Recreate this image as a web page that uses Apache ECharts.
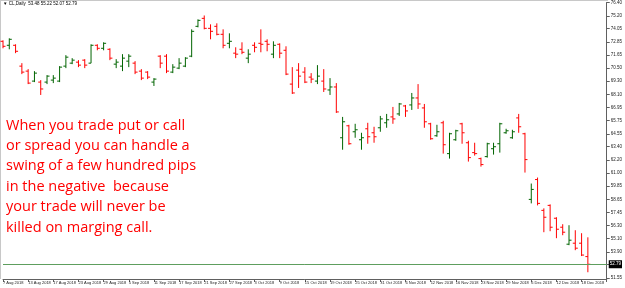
<!DOCTYPE html>
<html>
<head>
<meta charset="utf-8">
<script src="https://cdn.jsdelivr.net/npm/echarts@6/dist/echarts.min.js"></script>
<style>
html, body { margin: 0; padding: 0; background: #fff; }
#chart { width: 625px; height: 288px; }
</style>
</head>
<body>
<div id="chart"></div>
<script>
// trading days shown on the chart (US holidays Sep 3, Nov 22, Dec 5 missing)
var augDays = [7, 8, 9, 10, 13, 14, 15, 16, 17, 20, 21, 22, 23, 24, 27, 28, 29, 30, 31];
var sepDays = [4, 5, 6, 7, 10, 11, 12, 13, 14, 17, 18, 19, 20, 21, 24, 25, 26, 27, 28];
var octDays = [1, 2, 3, 4, 5, 8, 9, 10, 11, 12, 15, 16, 17, 18, 19, 22, 23, 24, 25, 26, 29, 30, 31];
var novDays = [1, 2, 5, 6, 7, 8, 9, 12, 13, 14, 15, 16, 19, 20, 21, 23, 26, 27, 28, 29, 30];
var decDays = [3, 4, 6, 7, 10, 11, 12, 13, 14, 17, 18, 19];

// daily bars
var opens = [72.90, 72.54, 72.54, 70.66, 70.21, 69.31, 69.22, 69.22, 69.40, 69.31,
    70.66, 70.93, 71.02, 71.20, 70.93, 72.54, 72.27, 72.18, 70.84, 70.66,
    71.11, 70.93, 70.21, 70.12, 69.22, 71.56, 71.56, 70.12, 70.48, 70.66,
    71.56, 74.25, 74.97, 74.07, 74.25, 73.53, 72.72, 71.83, 72.18, 71.38,
    72.54, 72.72, 72.90, 71.74, 72.63, 72.09, 69.04, 70.30, 70.12, 69.67,
    69.31, 69.31, 68.51, 68.78, 64.20, 65.28, 64.74, 64.02, 65.01, 64.65,
    65.10, 65.55, 66.08, 66.35, 67.07, 67.16, 67.79, 66.89, 65.46, 64.38,
    65.55, 62.77, 64.02, 65.46, 63.75, 62.86, 62.32, 62.50, 63.21, 63.66,
    64.65, 64.20, 65.99, 64.56, 58.64, 60.43, 57.65, 58.10, 56.94, 56.13,
    54.60, 54.69, 54.69, 53.48];
var highs = [72.99, 73.17, 72.63, 70.93, 70.39, 70.21, 69.40, 69.85, 69.85, 70.66,
    71.65, 71.38, 71.20, 71.29, 72.63, 72.63, 72.81, 72.27, 71.29, 71.74,
    71.74, 71.11, 70.39, 70.21, 69.58, 71.65, 71.74, 70.84, 71.38, 71.47,
    73.98, 74.88, 75.23, 74.43, 74.52, 73.98, 73.62, 72.36, 72.81, 72.18,
    72.81, 73.98, 73.08, 72.90, 72.72, 72.45, 70.57, 70.93, 70.57, 70.03,
    70.75, 70.39, 69.58, 69.13, 66.08, 65.37, 65.46, 64.65, 65.55, 65.19,
    66.17, 66.35, 66.98, 67.34, 67.16, 68.24, 69.04, 67.25, 65.55, 65.37,
    65.73, 64.65, 64.92, 65.55, 63.93, 63.75, 62.41, 63.75, 63.75, 65.55,
    65.01, 64.92, 66.35, 64.65, 60.07, 60.61, 57.83, 58.19, 57.03, 56.40,
    56.31, 55.86, 55.59, 55.22];
var lows = [72.27, 72.18, 71.83, 69.94, 69.04, 69.22, 68.06, 69.04, 69.13, 69.22,
    70.48, 70.84, 70.57, 70.48, 70.93, 72.09, 72.09, 71.20, 70.48, 70.21,
    70.57, 69.94, 69.40, 69.49, 68.87, 70.48, 70.03, 70.03, 70.39, 70.57,
    71.47, 74.16, 73.98, 73.08, 73.44, 72.27, 72.27, 71.38, 71.74, 70.93,
    71.91, 71.91, 72.00, 71.38, 71.38, 69.85, 68.15, 68.69, 69.13, 69.13,
    69.04, 68.33, 68.06, 66.44, 63.12, 63.57, 64.20, 63.12, 63.66, 63.75,
    64.74, 65.10, 65.46, 66.17, 66.08, 66.71, 66.80, 65.10, 64.02, 64.29,
    62.77, 62.32, 63.93, 63.66, 62.05, 62.59, 61.60, 62.41, 62.68, 62.86,
    64.56, 64.11, 64.65, 61.06, 58.28, 58.10, 55.68, 55.77, 55.14, 55.41,
    54.51, 54.06, 53.53, 52.07];
var closes = [72.45, 73.08, 72.00, 70.12, 69.13, 70.03, 68.60, 69.76, 69.58, 70.57,
    71.47, 71.20, 70.75, 70.75, 72.54, 72.27, 72.72, 71.38, 71.02, 71.38,
    71.56, 70.12, 69.58, 69.67, 69.49, 70.93, 70.21, 70.57, 70.93, 71.38,
    73.80, 74.79, 74.07, 73.80, 73.53, 72.54, 72.90, 71.74, 71.91, 71.74,
    72.36, 72.63, 72.63, 72.54, 71.83, 69.94, 68.24, 69.76, 69.22, 69.49,
    69.76, 68.60, 68.78, 66.53, 65.64, 63.66, 64.92, 64.20, 64.29, 64.29,
    65.90, 65.82, 65.90, 67.25, 66.62, 67.79, 67.25, 65.64, 64.11, 64.74,
    63.57, 64.56, 64.83, 64.65, 62.41, 62.77, 61.78, 63.66, 63.39, 65.46,
    64.83, 64.74, 65.19, 62.23, 59.54, 58.28, 57.03, 56.13, 55.95, 55.68,
    54.96, 54.24, 53.62, 52.79];

var priceLabels = [76.40, 75.20, 74.05, 72.85, 71.65, 70.50, 69.30, 68.10, 66.95, 65.75, 64.55,
    63.40, 62.20, 61.00, 59.85, 58.65, 57.45, 56.30, 55.10, 53.90, 52.75, 51.55];
var lastPrice = 52.79;
var headerText = '\u25BC CL,Daily  53.48 55.22 52.07 52.79';

var noteLines = [
    'When you trade put or call',
    'or spread you can handle a',
    'swing of a few hundred pips',
    'in the negative  because',
    'your trade will never be',
    'killed on marging call.'
];

var upColor = '#006400';
var downColor = '#ff0000';

var dates = [];
[['Aug', augDays], ['Sep', sepDays], ['Oct', octDays], ['Nov', novDays], ['Dec', decDays]].forEach(function (m) {
    m[1].forEach(function (d) {
        dates.push(d + ' ' + m[0] + ' 2018');
    });
});
// some empty space on the right side (chart shift)
var categories = dates.concat(['', '', '']);

var bars = opens.map(function (o, i) {
    return [i, o, highs[i], lows[i], closes[i]];
});

function renderBar(params, api) {
    var i = api.value(0);
    var o = api.coord([i, api.value(1)]);
    var h = api.coord([i, api.value(2)]);
    var l = api.coord([i, api.value(3)]);
    var c = api.coord([i, api.value(4)]);
    var x = o[0];
    var color = api.value(4) >= api.value(1) ? upColor : downColor;
    var st = { stroke: color, lineWidth: 1 };
    return {
        type: 'group',
        children: [
            { type: 'line', shape: { x1: x, y1: h[1], x2: x, y2: l[1] }, style: st },
            { type: 'line', shape: { x1: x - 2.5, y1: o[1], x2: x, y2: o[1] }, style: st },
            { type: 'line', shape: { x1: x, y1: c[1], x2: x + 2.5, y2: c[1] }, style: st }
        ]
    };
}

var myChart = echarts.init(document.getElementById('chart'));

var graphics = [
    { type: 'rect', shape: { x: 0, y: 0, width: 608, height: 1 }, style: { fill: '#c8c8c8' }, silent: true },
    { type: 'rect', shape: { x: 0, y: 0, width: 1, height: 279 }, style: { fill: '#c8c8c8' }, silent: true },
    {
        type: 'text', x: 3, y: 4, silent: true,
        style: { text: headerText, fontSize: 4.5, fontFamily: 'Liberation Sans', fill: '#000', verticalAlign: 'middle' }
    }
];
noteLines.forEach(function (t, k) {
    graphics.push({
        type: 'text', x: 6, y: 125.5 + k * 20.4, silent: true,
        style: {
            text: t, fill: '#ff0000', verticalAlign: 'middle',
            fontSize: 14.5, fontFamily: '"Comic Sans MS", "Open Sans", sans-serif'
        }
    });
});

var option = {
    animation: false,
    backgroundColor: '#fff',
    grid: { left: 1, right: 17, top: 1, bottom: 9 },
    xAxis: {
        type: 'category',
        data: categories,
        boundaryGap: false,
        axisLine: { lineStyle: { color: '#606060', width: 1 } },
        axisTick: { interval: 3, length: 3, lineStyle: { color: '#606060' } },
        axisLabel: {
            interval: 3, align: 'left', margin: 2,
            fontSize: 4, fontFamily: 'Liberation Sans', color: '#222'
        },
        splitLine: { show: false }
    },
    yAxis: {
        type: 'value',
        position: 'right',
        min: 51.46,
        max: 76.40,
        axisLine: { show: true, lineStyle: { color: '#606060', width: 1 } },
        axisTick: { show: true, length: 3, customValues: priceLabels, lineStyle: { color: '#606060' } },
        axisLabel: {
            customValues: priceLabels, margin: 4,
            fontSize: 4.5, fontFamily: 'Liberation Sans', color: '#222',
            formatter: function (v) { return v.toFixed(2); }
        },
        splitLine: { show: false }
    },
    graphic: graphics,
    series: [{
        type: 'custom',
        renderItem: renderBar,
        encode: { x: 0, y: [1, 2, 3, 4] },
        data: bars,
        markLine: {
            silent: true,
            symbol: 'none',
            lineStyle: { color: '#5e9e5e', width: 1, type: 'solid' },
            label: {
                position: 'end', distance: 2,
                formatter: lastPrice.toFixed(2),
                backgroundColor: '#000', color: '#fff',
                fontSize: 4.5, fontFamily: 'Liberation Sans',
                padding: [2, 1, 1, 1]
            },
            data: [{ yAxis: lastPrice }]
        }
    }]
};

myChart.setOption(option);
</script>
</body>
</html>
